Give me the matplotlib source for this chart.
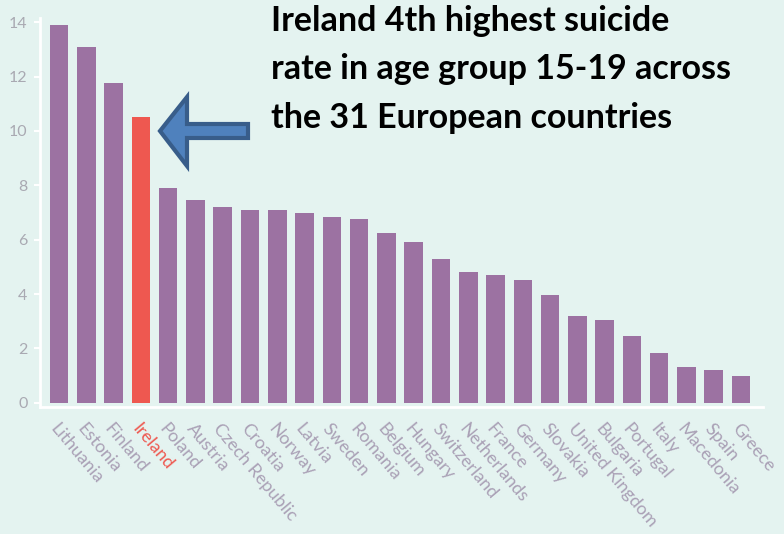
import matplotlib.pyplot as plt
from matplotlib.patches import Polygon
import numpy as np

# suicide rate per 100k, age 15-19
countries = ["Lithuania", "Estonia", "Finland", "Ireland", "Poland", "Austria",
             "Czech Republic", "Croatia", "Norway", "Latvia", "Sweden", "Romania",
             "Belgium", "Hungary", "Switzerland", "Netherlands", "France", "Germany",
             "Slovakia", "United Kingdom", "Bulgaria", "Portugal", "Italy",
             "Macedonia", "Spain", "Greece"]
rates = [13.9, 13.1, 11.75, 10.5, 7.9, 7.45, 7.2, 7.1, 7.1, 7.0, 6.85, 6.75,
         6.25, 5.9, 5.3, 4.8, 4.7, 4.5, 3.95, 3.2, 3.05, 2.45, 1.85, 1.3, 1.2, 0.98]
yticks = [0, 2, 4, 6, 8, 10, 12, 14]
highlight = "Ireland"

bg = "#e4f3f0"
purple = "#9c72a2"
red = "#ee5850"

fig = plt.figure(figsize=(7.84, 5.34), dpi=100, facecolor=bg)
ax = fig.add_axes([0.051, 0.238, 0.922, 0.728])
ax.set_facecolor(bg)

x = np.arange(len(countries))
colors = [red if c == highlight else purple for c in countries]
ax.bar(x, rates, width=0.68, color=colors, zorder=3)

ax.set_xlim(-0.7, len(countries) - 0.2)
ax.set_ylim(-0.15, 14.15)
ax.set_yticks(yticks)
ax.set_yticklabels([str(v) for v in yticks], fontsize=11.5, color="#a9a9b2", family="Lato")
ax.tick_params(axis="y", length=4, width=1.5, color="white", pad=5)

ax.set_xticks(x)
ax.set_xticklabels(countries, rotation=-50, ha="left", rotation_mode="anchor",
                   fontsize=13, color="#aaa1b6", family="Lato")
ax.tick_params(axis="x", length=0, pad=10)
for lab in ax.get_xticklabels():
    if lab.get_text() == highlight:
        lab.set_color(red)

for s in ["top", "right"]:
    ax.spines[s].set_visible(False)
for s in ["left", "bottom"]:
    ax.spines[s].set_color("white")
    ax.spines[s].set_linewidth(2)

fig.text(0.346, 0.99, "Ireland 4th highest suicide\nrate in age group 15-19 across\nthe 31 European countries",
         ha="left", va="top", fontsize=24.5, fontweight="bold", color="black",
         family="Lato", linespacing=1.62)

# arrow pointing at the Ireland bar (pixel coords)
W, H = 784, 534
pts = [(160, 131), (187, 97), (187, 124), (248, 124), (248, 138), (187, 138), (187, 166)]
arrow = Polygon([(px / W, 1 - py / H) for px, py in pts], closed=True,
                transform=fig.transFigure, facecolor="#4f81bd", edgecolor="#385d8a",
                linewidth=3, joinstyle="miter", zorder=5)
fig.patches.append(arrow)

fig.savefig("out.png", dpi=100, facecolor=bg)
